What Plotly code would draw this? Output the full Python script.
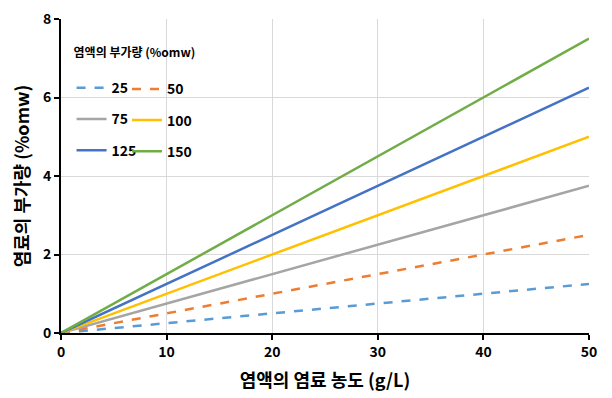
import plotly.graph_objects as go

x_vals = [0, 50]
series_names = ["25", "50", "75", "100", "125", "150"]
series_values = [
    [0, 1.25],
    [0, 2.5],
    [0, 3.75],
    [0, 5.0],
    [0, 6.25],
    [0, 7.5],
]
colors = ["#5B9BD5", "#ED7D31", "#A5A5A5", "#FFC000", "#4472C4", "#70AD47"]
dashes = ["dash", "dash", "solid", "solid", "solid", "solid"]
legends = ["legend", "legend2", "legend", "legend2", "legend", "legend2"]

FONT = "Noto Sans CJK KR"

fig = go.Figure()
for name, vals, c, d, lg in zip(series_names, series_values, colors, dashes, legends):
    fig.add_trace(go.Scatter(
        x=x_vals, y=vals, mode="lines", name=name,
        line=dict(color=c, width=2.5, dash=d),
        legend=lg, legendgroup=name,
    ))

leg_common = dict(orientation="v", xanchor="left", yanchor="top",
                  bgcolor="rgba(0,0,0,0)",
                  font=dict(family=FONT, size=14, color="#000", weight="bold"),
                  itemwidth=30, tracegroupgap=10)

fig.update_layout(
    width=612, height=398,
    margin=dict(l=53, r=31, t=11, b=73, autoexpand=False),
    paper_bgcolor="white", plot_bgcolor="white",
    font=dict(family=FONT, color="#000"),
    showlegend=True,
    legend=dict(**leg_common, x=0.02, y=0.93,
                title=dict(text="<b>염액의 부가량 (%omw)</b><br> ", side="top",
                           font=dict(family=FONT, size=12, color="#000"))),
    legend2=dict(**leg_common, x=0.125, y=0.827),
    xaxis=dict(
        range=[0, 50], tickvals=[0, 10, 20, 30, 40, 50], automargin=False,
        showgrid=True, gridcolor="#D9D9D9", gridwidth=1,
        showline=True, linecolor="#000", linewidth=2,
        ticks="outside", ticklen=5, tickcolor="#000", tickwidth=2,
        tickfont=dict(family=FONT, size=14, color="#000", weight="bold"),
        title=dict(text="<b>염액의 염료 농도 (g/L)</b>", font=dict(family=FONT, size=18, color="#000"), standoff=15),
        zeroline=False, ticklabeloverflow="allow",
    ),
    yaxis=dict(
        range=[0, 8], tickvals=[0, 2, 4, 6, 8], automargin=False,
        showgrid=True, gridcolor="#D9D9D9", gridwidth=1,
        showline=True, linecolor="#000", linewidth=2,
        ticks="outside", ticklen=5, tickcolor="#000", tickwidth=2,
        tickfont=dict(family=FONT, size=14, color="#000", weight="bold"),
        title=dict(text="<b>염료의 부가량 (%omw)</b>", font=dict(family=FONT, size=18, color="#000"), standoff=13),
        zeroline=False, ticklabeloverflow="allow",
    ),
)

fig.write_html("out.html")
